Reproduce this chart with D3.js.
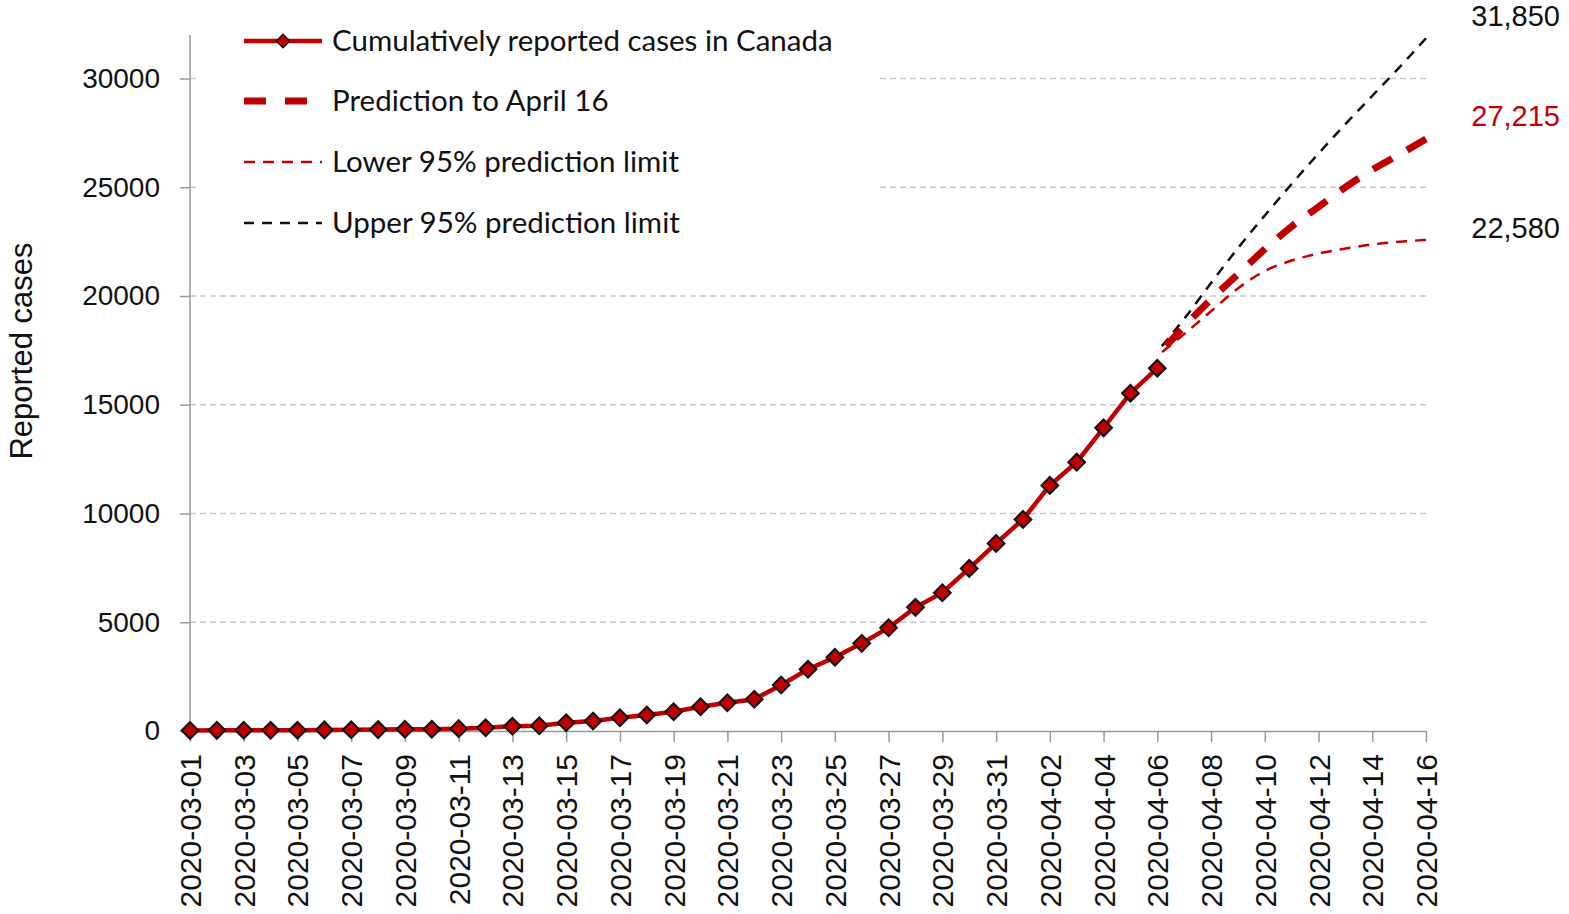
<!DOCTYPE html>
<html>
<head>
<meta charset="utf-8">
<script src="https://cdn.jsdelivr.net/npm/d3@7"></script>
<style>
  body { margin: 0; background: #fff; }
  svg { display: block; }
</style>
</head>
<body>
<div id="chart"></div>
<script>
// observed cumulative cases, 2020-03-01 .. 2020-04-06
const obsStart = "2020-03-01";
const observed = [27, 30, 33, 34, 37, 51, 57, 64, 77, 79, 108, 150, 220, 240, 383,
  459, 612, 735, 887, 1117, 1300, 1457, 2114, 2835, 3387, 4030, 4748, 5685, 6356,
  7477, 8626, 9729, 11292, 12362, 13938, 15533, 16682];

// predictions, 2020-04-06 .. 2020-04-16
const predStart = "2020-04-06";
const predMid = [17250, 18600, 19850, 21000, 22150, 23200, 24100, 25000, 25800, 26500, 27215];
const predLow = [17250, 18250, 19300, 20350, 21150, 21630, 21950, 22180, 22370, 22490, 22580];
const predUp = [17450, 18950, 20600, 22200, 23700, 25150, 26550, 27900, 29200, 30500, 31850];

const yTicks = [0, 5000, 10000, 15000, 20000, 25000, 30000];
const legendLabels = [
  "Cumulatively reported cases in Canada",
  "Prediction to April 16",
  "Lower 95% prediction limit",
  "Upper 95% prediction limit"
];
const endLabels = ["31,850", "27,215", "22,580"];

const width = 1569, height = 914;
const red = "#c00000";
const parse = d3.timeParse("%Y-%m-%d");
const fmt = d3.timeFormat("%Y-%m-%d");

function series(start, values) {
  const t0 = parse(start);
  return values.map((v, i) => ({ date: d3.timeDay.offset(t0, i), value: v }));
}
const obsData = series(obsStart, observed);
const midData = series(predStart, predMid);
const lowData = series(predStart, predLow);
const upData = series(predStart, predUp);

const x = d3.scaleTime()
  .domain([parse("2020-03-01"), parse("2020-04-16")])
  .range([190, 1426]);
const y = d3.scaleLinear().domain([0, 32000]).range([731, 35]);

const svg = d3.select("#chart").append("svg")
  .attr("width", width)
  .attr("height", height);

// gridlines
svg.append("g")
  .selectAll("line")
  .data(yTicks.filter(d => d > 0))
  .enter().append("line")
  .attr("x1", x.range()[0])
  .attr("x2", x.range()[1])
  .attr("y1", d => y(d))
  .attr("y2", d => y(d))
  .attr("stroke", "#c8c8c8")
  .attr("stroke-width", 1.3)
  .attr("stroke-dasharray", "6,4");

// y axis
const yAxis = svg.append("g")
  .attr("transform", `translate(${x.range()[0]},0)`)
  .call(d3.axisLeft(y).tickValues(yTicks).tickSize(10).tickPadding(20).tickFormat(d3.format("d")));
yAxis.select(".domain").attr("stroke", "#999").attr("stroke-width", 1.5).attr("d", `M-0,${y(32000)}V${y(0)}`);
yAxis.selectAll(".tick line").attr("stroke", "#999").attr("stroke-width", 1.5);
yAxis.selectAll("text")
  .attr("font-family", "Liberation Sans, Arial, sans-serif")
  .attr("font-size", 28)
  .attr("fill", "#111");

// x axis
const xTickDates = d3.timeDay.range(parse("2020-03-01"), d3.timeDay.offset(parse("2020-04-16"), 1), 2);
const xAxis = svg.append("g")
  .attr("transform", `translate(0,${y(0)})`)
  .call(d3.axisBottom(x).tickValues(xTickDates).tickSize(11).tickSizeOuter(0).tickFormat(fmt));
xAxis.select(".domain").attr("stroke", "#999").attr("stroke-width", 1.5);
xAxis.selectAll(".tick line").attr("stroke", "#999").attr("stroke-width", 1.5);
xAxis.selectAll("text")
  .attr("font-family", "Liberation Sans, Arial, sans-serif")
  .attr("font-size", 30)
  .attr("fill", "#111")
  .attr("text-anchor", "end")
  .attr("transform", "rotate(-90)")
  .attr("x", -23)
  .attr("y", 0)
  .attr("dy", "0.35em");

// y axis title
svg.append("text")
  .attr("transform", "translate(32,351) rotate(-90)")
  .attr("text-anchor", "middle")
  .attr("font-family", "Liberation Sans, Arial, sans-serif")
  .attr("font-size", 31)
  .attr("fill", "#111")
  .text("Reported cases");

// legend box hides gridlines behind it
svg.append("rect")
  .attr("x", 200).attr("y", 12)
  .attr("width", 680).attr("height", 240)
  .attr("fill", "#fff");

// prediction lines
const line = d3.line().x(d => x(d.date)).y(d => y(d.value)).curve(d3.curveMonotoneX);

// shift the dash pattern so each line ends on a full dash
function dashed(path, dash, gap) {
  const len = path.node().getTotalLength();
  const period = dash + gap;
  path.attr("stroke-dasharray", `${dash},${gap}`)
    .attr("stroke-dashoffset", dash - (len % period));
}

dashed(svg.append("path").datum(upData)
  .attr("d", line).attr("fill", "none")
  .attr("stroke", "#111").attr("stroke-width", 2.5), 10, 8);
dashed(svg.append("path").datum(lowData)
  .attr("d", line).attr("fill", "none")
  .attr("stroke", red).attr("stroke-width", 2.5), 11, 8);
dashed(svg.append("path").datum(midData)
  .attr("d", line).attr("fill", "none")
  .attr("stroke", red).attr("stroke-width", 7), 22, 17);

// observed line + diamonds
const obsLine = d3.line().x(d => x(d.date)).y(d => y(d.value));
svg.append("path").datum(obsData)
  .attr("d", obsLine).attr("fill", "none")
  .attr("stroke", red).attr("stroke-width", 4.5);

const diamond = d3.symbol().type(d3.symbolSquare).size(140);
svg.append("g")
  .selectAll("path")
  .data(obsData)
  .enter().append("path")
  .attr("d", diamond)
  .attr("transform", d => `translate(${x(d.date)},${y(d.value)}) rotate(45)`)
  .attr("fill", red)
  .attr("stroke", "#111")
  .attr("stroke-width", 2);

// end labels
const endValues = [predUp[predUp.length - 1], predMid[predMid.length - 1], predLow[predLow.length - 1]];
const endColors = ["#111", red, "#111"];
const endOffsets = [-22, -23, -12];
svg.append("g")
  .selectAll("text")
  .data(endLabels)
  .enter().append("text")
  .attr("x", 1560)
  .attr("y", (d, i) => y(endValues[i]) + endOffsets[i])
  .attr("dy", "0.35em")
  .attr("text-anchor", "end")
  .attr("font-family", "Liberation Sans, Arial, sans-serif")
  .attr("font-size", 29)
  .attr("fill", (d, i) => endColors[i])
  .text(d => d);

// legend
const legend = svg.append("g");
const rowY = [41, 101, 162, 223];
const styles = [
  { stroke: red, width: 4.5, dash: null },
  { stroke: red, width: 7, dash: "22,19" },
  { stroke: red, width: 2.5, dash: "11,8" },
  { stroke: "#111", width: 2.5, dash: "10,8" }
];
legendLabels.forEach((label, i) => {
  const g = legend.append("g").attr("transform", `translate(0,${rowY[i]})`);
  g.append("line")
    .attr("x1", 244).attr("x2", 322)
    .attr("stroke", styles[i].stroke)
    .attr("stroke-width", styles[i].width)
    .attr("stroke-dasharray", styles[i].dash);
  if (i === 0) {
    g.append("path")
      .attr("d", d3.symbol().type(d3.symbolSquare).size(90))
      .attr("transform", "translate(283,0) rotate(45)")
      .attr("fill", red)
      .attr("stroke", "#111")
      .attr("stroke-width", 1.5);
  }
  g.append("text")
    .attr("x", 332)
    .attr("dy", "0.35em")
    .attr("font-family", "Lato, Open Sans, sans-serif")
    .attr("font-size", 29.5)
    .attr("fill", "#111")
    .text(label);
});
</script>
</body>
</html>
